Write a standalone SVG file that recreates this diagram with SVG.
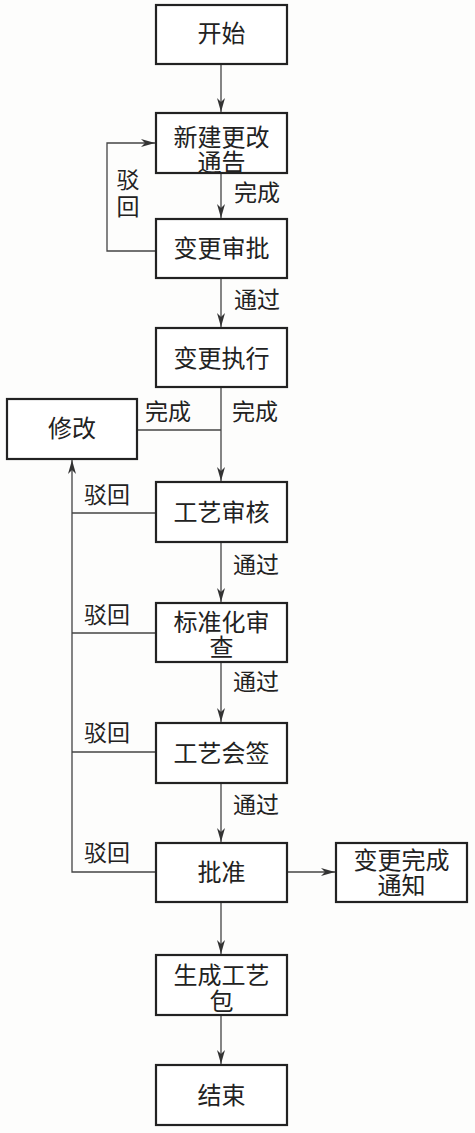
<svg xmlns="http://www.w3.org/2000/svg" width="475" height="1133" viewBox="0 0 475 1133">
<style>
.box{fill:#fff;stroke:#222;stroke-width:2.2}
.t{font-family:"Noto Sans CJK SC","Noto Sans CJK TC",sans-serif;font-size:24px;fill:#222;text-anchor:middle}
.l{font-family:"Noto Sans CJK SC","Noto Sans CJK TC",sans-serif;font-size:23px;fill:#222;text-anchor:middle}
.c{fill:none;stroke:#444;stroke-width:1.3}
</style>
<defs>
<marker id="ah" viewBox="0 0 14 8" refX="14" refY="4" markerWidth="14" markerHeight="8" markerUnits="userSpaceOnUse" orient="auto">
<path d="M0,0 L14,4 L0,8 L4,4 Z" fill="#333"/>
</marker>
</defs>
<rect width="475" height="1133" fill="#fdfdfc"/>
<g id="connectors">
<path class="c" d="M221,64 V112" marker-end="url(#ah)"/>
<path class="c" d="M221,173 V218" marker-end="url(#ah)"/>
<path class="c" d="M156,251 H107 V143 H155" marker-end="url(#ah)"/>
<path class="c" d="M221,278 V327" marker-end="url(#ah)"/>
<path class="c" d="M221,387 V481" marker-end="url(#ah)"/>
<path class="c" d="M137,430 H221"/>
<path class="c" d="M156,513 H72"/>
<path class="c" d="M156,633 H72"/>
<path class="c" d="M156,752 H72"/>
<path class="c" d="M156,872 H72 V460" marker-end="url(#ah)"/>
<path class="c" d="M221,542 V602" marker-end="url(#ah)"/>
<path class="c" d="M221,662 V722" marker-end="url(#ah)"/>
<path class="c" d="M221,783 V842" marker-end="url(#ah)"/>
<path class="c" d="M287,872 H335" marker-end="url(#ah)"/>
<path class="c" d="M221,902 V954" marker-end="url(#ah)"/>
<path class="c" d="M221,1015 V1064" marker-end="url(#ah)"/>
<text class="l" x="257" y="201">完成</text>
<text class="l" x="128" y="214"><tspan x="128" y="188">驳</tspan><tspan x="128" y="215">回</tspan></text>
<text class="l" x="257" y="308">通过</text>
<text class="l" x="168" y="420">完成</text>
<text class="l" x="255" y="420">完成</text>
<text class="l" x="107" y="503">驳回</text>
<text class="l" x="256" y="573">通过</text>
<text class="l" x="107" y="623">驳回</text>
<text class="l" x="256" y="690">通过</text>
<text class="l" x="107" y="741">驳回</text>
<text class="l" x="256" y="813">通过</text>
<text class="l" x="107" y="861">驳回</text>
</g>
<g id="start"><rect class="box" x="156" y="5" width="131" height="59"/><text class="t" x="221.5" y="42">开始</text></g>
<g id="newNotice"><rect class="box" x="156" y="113" width="131" height="60"/><text class="t"><tspan x="221.5" y="146">新建更改</tspan><tspan x="221.5" y="171">通告</tspan></text></g>
<g id="approveChange"><rect class="box" x="156" y="219" width="131" height="59"/><text class="t" x="221.5" y="257">变更审批</text></g>
<g id="execute"><rect class="box" x="156" y="328" width="131" height="59"/><text class="t" x="221.5" y="367">变更执行</text></g>
<g id="modify"><rect class="box" x="7" y="399" width="130" height="60"/><text class="t" x="72" y="437">修改</text></g>
<g id="processReview"><rect class="box" x="156" y="482" width="131" height="60"/><text class="t" x="221.5" y="521">工艺审核</text></g>
<g id="stdReview"><rect class="box" x="156" y="603" width="131" height="59"/><text class="t"><tspan x="221.5" y="631">标准化审</tspan><tspan x="221.5" y="656">查</tspan></text></g>
<g id="countersign"><rect class="box" x="156" y="723" width="131" height="60"/><text class="t" x="221.5" y="762">工艺会签</text></g>
<g id="approve"><rect class="box" x="156" y="843" width="131" height="59"/><text class="t" x="221.5" y="881">批准</text></g>
<g id="doneNotice"><rect class="box" x="336" y="843" width="131" height="59"/><text class="t"><tspan x="401.5" y="869">变更完成</tspan><tspan x="401.5" y="894">通知</tspan></text></g>
<g id="genPackage"><rect class="box" x="156" y="955" width="131" height="60"/><text class="t"><tspan x="221.5" y="984">生成工艺</tspan><tspan x="221.5" y="1010">包</tspan></text></g>
<g id="end"><rect class="box" x="156" y="1065" width="131" height="60"/><text class="t" x="221.5" y="1104">结束</text></g>
</svg>
